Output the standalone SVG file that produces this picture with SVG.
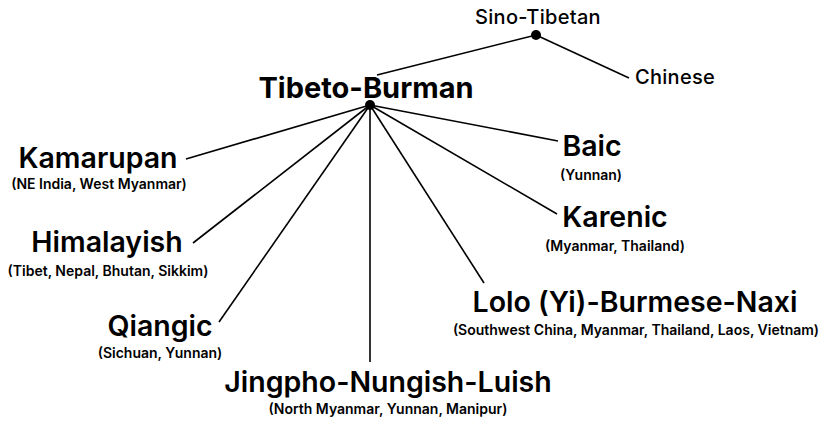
<svg xmlns="http://www.w3.org/2000/svg" width="829" height="421" viewBox="0 0 829 421">
<style>
text{font-family:Inter,"Liberation Sans",sans-serif;fill:#000;text-anchor:middle}
.t{font-size:28.5px;font-weight:600}
.s{font-size:14px;font-weight:600}
.r{font-size:20px;font-weight:500;letter-spacing:0.3px}
.tb{font-size:29px;font-weight:700}
.c line{stroke:#000;stroke-width:1.6}
</style>
<rect width="829" height="421" fill="#fff"/>
<g class="c" id="connectors">
<line x1="377" y1="75" x2="536" y2="35"/>
<line x1="536" y1="35" x2="629" y2="78"/>
<line x1="370" y1="105" x2="186" y2="159"/>
<line x1="370" y1="105" x2="193" y2="243"/>
<line x1="370" y1="105" x2="219" y2="322"/>
<line x1="370" y1="105" x2="370" y2="362"/>
<line x1="370" y1="105" x2="484" y2="283"/>
<line x1="370" y1="105" x2="557" y2="214"/>
<line x1="370" y1="105" x2="558" y2="141"/>
</g>
<g id="sino-tibetan"><circle cx="536" cy="35" r="5"/><text class="r" x="538" y="24">Sino-Tibetan</text></g>
<g id="chinese"><text class="r" x="675" y="84">Chinese</text></g>
<g id="tibeto-burman"><circle cx="370" cy="105" r="5"/><text class="tb" x="366" y="98">Tibeto-Burman</text></g>
<g id="kamarupan"><text class="t" x="98" y="168">Kamarupan</text><text class="s" x="99" y="189">(NE India, West Myanmar)</text></g>
<g id="himalayish"><text class="t" x="107" y="252">Himalayish</text><text class="s" x="108" y="276">(Tibet, Nepal, Bhutan, Sikkim)</text></g>
<g id="qiangic"><text class="t" x="160" y="336">Qiangic</text><text class="s" x="160" y="358">(Sichuan, Yunnan)</text></g>
<g id="jingpho"><text class="t" x="388" y="392">Jingpho-Nungish-Luish</text><text class="s" x="388" y="414">(North Myanmar, Yunnan, Manipur)</text></g>
<g id="baic"><text class="t" x="592" y="156">Baic</text><text class="s" x="591" y="180">(Yunnan)</text></g>
<g id="karenic"><text class="t" x="615" y="227">Karenic</text><text class="s" x="615" y="251">(Myanmar, Thailand)</text></g>
<g id="lolo"><text class="t" x="635" y="312">Lolo (Yi)-Burmese-Naxi</text><text class="s" x="636" y="335">(Southwest China, Myanmar, Thailand, Laos, Vietnam)</text></g>
</svg>
